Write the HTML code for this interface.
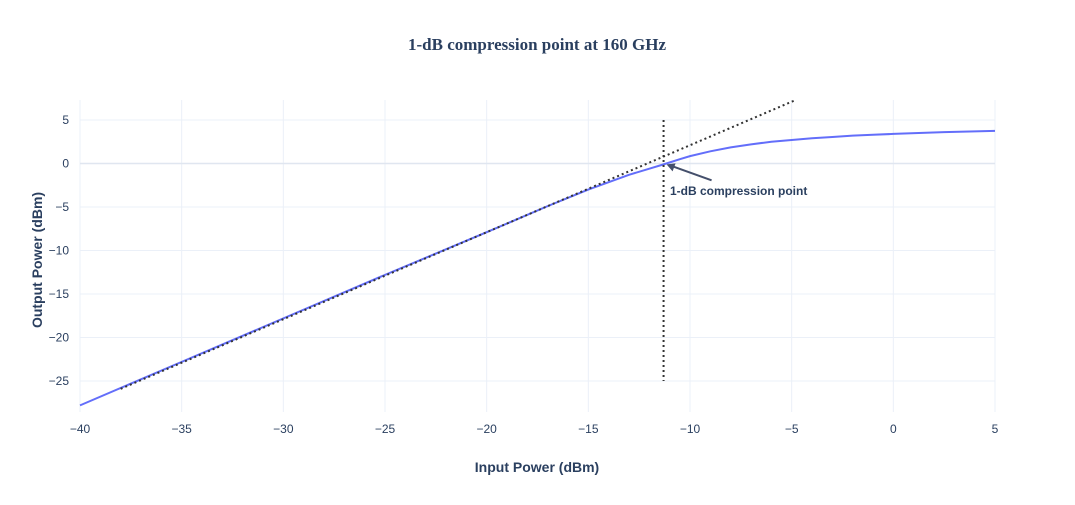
<!DOCTYPE html>
<html><head><meta charset="utf-8"><style>
body{margin:0;background:#fff;}
svg text{font-family:"Liberation Sans",sans-serif;fill:#2a3f5f;}
</style></head><body>
<svg width="1075" height="500" xmlns="http://www.w3.org/2000/svg">
<rect width="1075" height="500" fill="#fff"/>
<text x="537" y="50" text-anchor="middle" style="font-family:'Liberation Serif',serif;font-weight:bold;font-size:17px">1-dB compression point at 160 GHz</text>
<g id="grid"></g><g id="ticks"></g><g id="series"></g>
<text x="537" y="472" text-anchor="middle" style="font-weight:bold;font-size:14px">Input Power (dBm)</text>
<text transform="translate(42,260) rotate(-90)" text-anchor="middle" style="font-weight:bold;font-size:14px">Output Power (dBm)</text>
</svg>
<script>
const xTicks=[-40,-35,-30,-25,-20,-15,-10,-5,0,5];
const yTicks=[-25,-20,-15,-10,-5,0,5];
const inputPower=[-40,-35,-30,-25,-20,-17,-15,-13,-12,-11.3,-10.5,-10,-9,-8,-7,-6,-5,-4,-3,-2,-1,0,2.5,5];
const outputPower=[-27.8,-22.8,-17.8,-12.8,-7.9,-4.9,-3.0,-1.3,-0.6,-0.1,0.5,0.85,1.4,1.85,2.2,2.5,2.7,2.9,3.05,3.2,3.3,3.4,3.6,3.75];
const linearIn=[-38,-4.8];
const linearGain=12.1;
const compX=-11.3;
const compYRange=[-25,5];
const X=v=>80+(v+40)*(915/45);
const Y=v=>163.5-v*8.7;
const ns="http://www.w3.org/2000/svg";
function mk(t,a,p){const e=document.createElementNS(ns,t);for(const k in a)e.setAttribute(k,a[k]);p.appendChild(e);return e;}
const g=document.getElementById('grid'),tk=document.getElementById('ticks'),s=document.getElementById('series');
xTicks.forEach(v=>{
 const l=mk('line',{x1:X(v),x2:X(v),y1:100,y2:412,stroke:'#ebf0f8','stroke-width':1},g);
 
 
 const t=mk('text',{x:X(v),y:433,'text-anchor':'middle','font-size':12},tk);
 t.textContent=(v<0?'\u2212'+(-v):v);
 
 
});
yTicks.forEach(v=>{
 const l=mk('line',{x1:80,x2:995,y1:Y(v),y2:Y(v),stroke:v===0?'#e0e6f0':'#ebf0f8','stroke-width':v===0?1.5:1},g);
 
 
 const t=mk('text',{x:79-10,y:Y(v)+4,'text-anchor':'end','font-size':12},tk);
 t.textContent=(v<0?'\u2212'+(-v):v);
 
 
});
const c=mk('path',{d:inputPower.map((v,i)=>(i?'L':'M')+X(v)+','+Y(outputPower[i])).join(''),fill:'none',stroke:'#636efa','stroke-width':2},s);


const ln=mk('line',{x1:X(linearIn[0]),y1:Y(linearIn[0]+linearGain),x2:X(linearIn[1]),y2:Y(linearIn[1]+linearGain),stroke:'#333','stroke-width':2,'stroke-dasharray':'2,3'},s);


const vl=mk('line',{x1:X(compX),y1:Y(compYRange[1]),x2:X(compX),y2:Y(compYRange[0]),stroke:'#333','stroke-width':2,'stroke-dasharray':'2,3'},s);


const ax=X(compX)+3,ay=Y(-0.1);
const ar=mk('line',{x1:ax+45,y1:ay+16,x2:ax+6,y2:ay+2,stroke:'#444f6b','stroke-width':2},s);


const ah=mk('polygon',{points:`${ax},${ay} ${ax+9},${ay-1} ${ax+6},${ay+7}`,fill:'#444f6b'},s);


const at=mk('text',{x:670,y:195,'font-size':12,'font-weight':'bold'},s);
at.textContent='1-dB compression point';


</script>
</body></html>
